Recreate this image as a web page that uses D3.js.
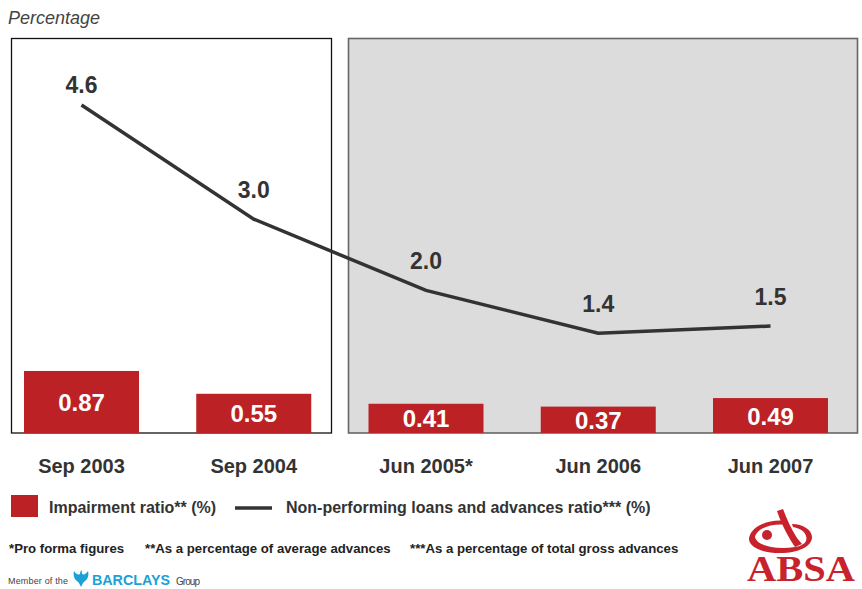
<!DOCTYPE html>
<html>
<head>
    <meta charset="utf-8">
    <title>ABSA impairment ratio</title>
    <script src="https://d3js.org/d3.v7.min.js"></script>
    <style>
        body, html {
            margin: 0;
            background: #fff;
            overflow: hidden;
        }
        text {
            font-family: "Liberation Sans", Arial, Helvetica, sans-serif;
        }
    </style>
</head>
<body>
<div id="chart"></div>
<script>
    // chart data
    const periods = ["Sep 2003", "Sep 2004", "Jun 2005*", "Jun 2006", "Jun 2007"];
    const impairment = [0.87, 0.55, 0.41, 0.37, 0.49];   // bars
    const npl = [4.6, 3.0, 2.0, 1.4, 1.5];               // line
    const nplLabels = ["4.6", "3.0", "2.0", "1.4", "1.5"];
    const barLabels = ["0.87", "0.55", "0.41", "0.37", "0.49"];
    const legendItems = ["Impairment ratio** (%)", "Non-performing loans and advances ratio*** (%)"];
    const footnotes = ["*Pro forma figures", "**As a percentage of average advances", "***As a percentage of total gross advances"];

    const width = 862, height = 589;
    const red = "#bc2126", ink = "#333333";

    const svg = d3.select("#chart")
                  .append("svg")
                  .attr("width", width)
                  .attr("height", height);

    // scales
    const x = d3.scalePoint()
                .domain(periods)
                .range([81.5, 770.5]);
    const y = d3.scaleLinear()
                .domain([0, 5.5])
                .range([433, 433 - 5.5 * 71.3]);
    const barWidth = 115;

    // panels: historic (white) and current (grey)
    svg.append("rect")
       .attr("x", 11.5).attr("y", 38.5)
       .attr("width", 320).attr("height", 394.5)
       .attr("fill", "#fff")
       .attr("stroke", "#111").attr("stroke-width", 1.3);
    svg.append("rect")
       .attr("x", 348.5).attr("y", 38.5)
       .attr("width", 509).attr("height", 394.5)
       .attr("fill", "#dcdcdc")
       .attr("stroke", "#666").attr("stroke-width", 1.6);

    svg.append("text")
       .attr("x", 8).attr("y", 24)
       .attr("font-size", 18)
       .attr("font-style", "italic")
       .attr("fill", "#444")
       .text("Percentage");

    // bars
    svg.selectAll(".bar")
       .data(impairment)
       .join("rect")
       .attr("class", "bar")
       .attr("x", (d, i) => x(periods[i]) - barWidth / 2)
       .attr("y", d => y(d))
       .attr("width", barWidth)
       .attr("height", d => y(0) - y(d))
       .attr("fill", red);

    svg.selectAll(".bar-label")
       .data(impairment)
       .join("text")
       .attr("class", "bar-label")
       .attr("x", (d, i) => x(periods[i]))
       .attr("y", d => (y(d) + y(0)) / 2 + 9)
       .attr("text-anchor", "middle")
       .attr("font-size", 24)
       .attr("font-weight", "bold")
       .attr("fill", "#fff")
       .text((d, i) => barLabels[i]);

    // line
    const line = d3.line()
                   .x((d, i) => x(periods[i]))
                   .y(d => y(d));
    svg.append("path")
       .datum(npl)
       .attr("d", line)
       .attr("fill", "none")
       .attr("stroke", ink)
       .attr("stroke-width", 3.5);

    svg.selectAll(".line-label")
       .data(npl)
       .join("text")
       .attr("class", "line-label")
       .attr("x", (d, i) => x(periods[i]))
       .attr("y", (d, i) => y(d) - (i === 0 ? 12 : 21))
       .attr("text-anchor", "middle")
       .attr("font-size", 23)
       .attr("font-weight", "bold")
       .attr("fill", ink)
       .text((d, i) => nplLabels[i]);

    // category axis labels
    svg.selectAll(".cat")
       .data(periods)
       .join("text")
       .attr("class", "cat")
       .attr("x", d => x(d))
       .attr("y", 473)
       .attr("text-anchor", "middle")
       .attr("font-size", 20)
       .attr("font-weight", "bold")
       .attr("fill", ink)
       .text(d => d);

    // legend
    const legend = svg.append("g");
    legend.append("rect")
          .attr("x", 11).attr("y", 495)
          .attr("width", 27).attr("height", 22)
          .attr("fill", red);
    legend.append("text")
          .attr("x", 49).attr("y", 513)
          .attr("font-size", 16).attr("font-weight", "bold").attr("fill", ink)
          .text(legendItems[0]);
    legend.append("line")
          .attr("x1", 235).attr("x2", 272)
          .attr("y1", 508).attr("y2", 508)
          .attr("stroke", ink).attr("stroke-width", 3.5);
    legend.append("text")
          .attr("x", 286).attr("y", 513)
          .attr("font-size", 16).attr("font-weight", "bold").attr("fill", ink)
          .text(legendItems[1]);

    // footnotes
    const footX = [9, 145, 410];
    svg.selectAll(".foot")
       .data(footnotes)
       .join("text")
       .attr("class", "foot")
       .attr("x", (d, i) => footX[i])
       .attr("y", 553)
       .attr("font-size", 13.2)
       .attr("font-weight", "bold")
       .attr("fill", "#222")
       .text(d => d);

    // Barclays strapline
    const bar = svg.append("g");
    bar.append("text")
       .attr("x", 8).attr("y", 584)
       .attr("font-size", 9)
       .attr("fill", "#444")
       .attr("textLength", 60)
       .text("Member of the");
    bar.append("path")
       .attr("d", "M74,571 C76,574 78,575 80,574 C80,572 81,571 81,570 C82,571 82,572 82,574 C84,575 86,574 88,571 C89,575 88,579 85,581 L83,583 L81,587 L79,583 L77,581 C74,579 73,575 74,571 Z")
       .attr("fill", "#1ba1d8");
    bar.append("text")
       .attr("x", 92).attr("y", 585)
       .attr("font-size", 15)
       .attr("font-weight", "bold")
       .attr("fill", "#1ba1d8")
       .attr("textLength", 78)
       .attr("lengthAdjust", "spacingAndGlyphs")
       .text("BARCLAYS");
    bar.append("text")
       .attr("x", 176).attr("y", 585)
       .attr("font-size", 10)
       .attr("fill", "#444")
       .attr("textLength", 24)
       .text("Group");

    // ABSA logo
    const absa = svg.append("g").attr("fill", "#c8232c");
    absa.append("path")
        .attr("d", "M749,538 C752,525 770,519 786,521 L788,525 C772,523 757,528 755,537 C757,546 776,550 795,547 C803,546 808,542 806,536 C805,531 799,528 793,527 L792,524 C803,524 812,530 812,537 C812,546 800,552 784,553 C765,554 748,548 749,538 Z");
    absa.append("path")
        .attr("d", "M777,511 L783,509 C787,520 792,530 797,538 L802,544 L795,547 C789,538 782,526 777,511 Z");
    absa.append("circle")
        .attr("cx", 767).attr("cy", 535).attr("r", 5);
    absa.append("text")
        .attr("x", 747).attr("y", 581)
        .style("font-family", "'Liberation Serif', 'DejaVu Serif', serif")
        .attr("font-size", 35)
        .attr("font-weight", "bold")
        .attr("textLength", 108)
        .attr("lengthAdjust", "spacingAndGlyphs")
        .text("ABSA");
</script>
</body>
</html>
